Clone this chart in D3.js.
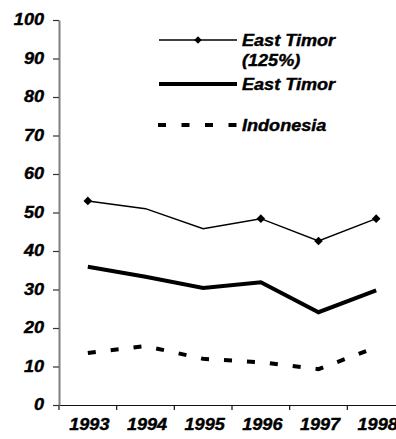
<!DOCTYPE html>
<html>
<head>
<meta charset="utf-8">
<script src="https://cdn.jsdelivr.net/npm/d3@7"></script>
<style>
  html, body { margin: 0; padding: 0; background: #fff; }
  svg { display: block; }
  text { font-family: "Liberation Sans", Arial, sans-serif; font-weight: bold; font-style: italic; font-size: 16px; fill: #000; stroke: #000; stroke-width: 0.4px; }
</style>
</head>
<body>
<svg id="chart" width="396" height="439"></svg>
<script>
// Years on the category axis
const years = ["1993", "1994", "1995", "1996", "1997", "1998"];
// Series values (percent)
const eastTimor125 = [53, 51, 45.8, 48.4, 42.6, 48.4];
const eastTimor = [35.9, 33.3, 30.4, 31.9, 24.1, 29.8];
const indonesia = [13.5, 15.3, 12, 11.1, 9.3, 15];
// Years where the 125% series shows a marker
const markedYears = ["1993", "1996", "1997", "1998"];
// Value axis ticks
const yTicks = [0, 10, 20, 30, 40, 50, 60, 70, 80, 90, 100];
// Legend entries
const legendLabels = [["East Timor", "(125%)"], ["East Timor"], ["Indonesia"]];

const svg = d3.select("#chart");
const stretch = "scale(1.13,1)";

const x = d3.scaleBand().domain(years).range([59, 405]).paddingInner(0).paddingOuter(0);
const y = d3.scaleLinear().domain([0, 100]).range([405, 20]);
const cx = d => x(d) + x.bandwidth() / 2;

// Category axis: baseline plus ticks on the band boundaries
const xAxis = svg.append("g").attr("transform", `translate(0,${y(0)})`)
  .call(d3.axisBottom(x).tickSize(0).tickFormat(""));
xAxis.select(".domain").attr("stroke", "#111").attr("stroke-width", 1.2);
svg.append("g").selectAll("line")
  .data(years)
  .join("line")
  .attr("x1", d => x(d)).attr("x2", d => x(d))
  .attr("y1", y(0)).attr("y2", y(0) + 5)
  .attr("stroke", "#111").attr("stroke-width", 1.2);
svg.append("g").selectAll("text")
  .data(years)
  .join("text")
  .attr("transform", d => `translate(${cx(d) + 1.5},429.5) ${stretch}`)
  .attr("text-anchor", "middle")
  .text(d => d);

// Value axis
const yAxis = svg.append("g").attr("transform", `translate(${x.range()[0]},0)`)
  .call(d3.axisLeft(y).tickValues(yTicks).tickSize(6).tickSizeOuter(0).tickFormat(""));
yAxis.select(".domain").attr("stroke", "#808080").attr("stroke-width", 2);
yAxis.selectAll(".tick line").attr("stroke", "#333").attr("stroke-width", 1.2);
svg.append("g").selectAll("text")
  .data(yTicks)
  .join("text")
  .attr("transform", d => `translate(44,${y(d) + 5}) ${stretch}`)
  .attr("text-anchor", "end")
  .text(d => d);

const line = d3.line().x((d, i) => cx(years[i])).y(d => y(d));

// Indonesia: thick dashed line
svg.append("path").datum(indonesia)
  .attr("d", line).attr("fill", "none")
  .attr("stroke", "#000").attr("stroke-width", 4)
  .attr("stroke-dasharray", "8,15");

// East Timor: thick solid line
svg.append("path").datum(eastTimor)
  .attr("d", line).attr("fill", "none")
  .attr("stroke", "#000").attr("stroke-width", 4);

// East Timor (125%): thin line with diamond markers
svg.append("path").datum(eastTimor125)
  .attr("d", line).attr("fill", "none")
  .attr("stroke", "#000").attr("stroke-width", 1.5);
// Diamond marker: a square turned by 45 degrees
const diamond = d3.symbol().type(d3.symbolSquare).size(38);
svg.append("g").selectAll("path")
  .data(years.map((yr, i) => ({ yr, v: eastTimor125[i] })).filter(d => markedYears.includes(d.yr)))
  .join("path")
  .attr("d", diamond)
  .attr("transform", d => `translate(${cx(d.yr)},${y(d.v)}) rotate(45)`)
  .attr("fill", "#000");

// Legend
const lg = svg.append("g");
const lx0 = 159, lx1 = 237, tx = 242;
lg.append("line").attr("x1", lx0).attr("x2", lx1).attr("y1", 40).attr("y2", 40)
  .attr("stroke", "#000").attr("stroke-width", 1.5);
lg.append("path").attr("d", d3.symbol().type(d3.symbolSquare).size(28))
  .attr("transform", `translate(${(lx0 + lx1) / 2},40) rotate(45)`);
lg.append("line").attr("x1", lx0).attr("x2", lx1).attr("y1", 84).attr("y2", 84)
  .attr("stroke", "#000").attr("stroke-width", 4);
lg.append("line").attr("x1", lx0 - 1).attr("x2", lx1).attr("y1", 125).attr("y2", 125)
  .attr("stroke", "#000").attr("stroke-width", 4).attr("stroke-dasharray", "8,15.5");

const legendY = [[45.5, 66], [90], [130.5]];
legendLabels.forEach((lines, i) => {
  lines.forEach((t, j) => {
    lg.append("text")
      .attr("transform", `translate(${tx},${legendY[i][j]}) ${stretch}`)
      .text(t);
  });
});
</script>
</body>
</html>
